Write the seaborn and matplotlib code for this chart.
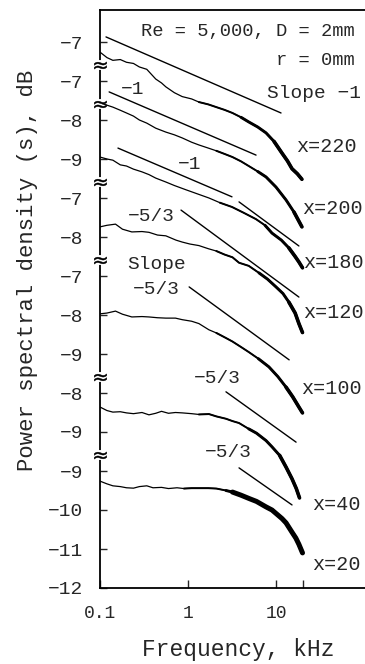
import matplotlib
matplotlib.use('Agg')
import matplotlib.pyplot as plt
import matplotlib.ticker as mticker
import matplotlib.transforms as mtransforms
import pandas as pd
import seaborn as sns

# Each spectrum is given in its own log-PSD scale; the y axis is a stack of broken scales.
curve_names = ['x=220', 'x=200', 'x=180', 'x=120', 'x=100', 'x=40', 'x=20']

freq_220 = [0.10, 0.12, 0.14, 0.17, 0.20, 0.24, 0.28, 0.34, 0.43, 0.50, 0.56, 0.70, 0.86, 1.1,
            1.33, 1.7, 2.1, 2.6, 3.2, 4.0, 4.9, 6.2, 7.7, 9.5, 11.7, 13.5, 15.2, 17.5, 19.7]
psd_220 = [-7.26, -7.40, -7.47, -7.45, -7.52, -7.55, -7.64, -7.70, -7.95, -8.05, -8.15, -8.30, -8.40,
           -8.46, -8.54, -8.60, -8.67, -8.74, -8.82, -8.93, -9.05, -9.18, -9.33, -9.55, -9.85,
           -10.05, -10.25, -10.38, -10.52]

freq_200 = [0.10, 0.12, 0.14, 0.17, 0.20, 0.24, 0.28, 0.34, 0.43, 0.56, 0.70, 0.86, 1.1, 1.33,
            1.7, 2.1, 2.6, 3.2, 4.0, 4.9, 6.2, 7.7, 10.0, 13.0, 16.0, 19.7]
psd_200 = [-7.56, -7.62, -7.67, -7.75, -7.82, -7.90, -8.00, -8.08, -8.21, -8.31, -8.38, -8.46,
           -8.57, -8.64, -8.72, -8.79, -8.87, -8.95, -9.06, -9.18, -9.32, -9.46, -9.72, -10.05,
           -10.36, -10.74]

freq_180 = [0.10, 0.12, 0.14, 0.17, 0.20, 0.24, 0.30, 0.36, 0.43, 0.56, 0.70, 0.95, 1.3, 1.73,
            2.3, 3.16, 4.3, 5.9, 7.5, 9.0, 11.5, 14.0, 16.5, 18.2, 20.0]
psd_180 = [-8.95, -9.00, -9.03, -9.15, -9.18, -9.26, -9.33, -9.40, -9.49, -9.59, -9.68, -9.79,
           -9.90, -10.00, -10.12, -10.23, -10.38, -10.54, -10.70, -10.90, -11.08, -11.28,
           -11.50, -11.64, -11.79]

freq_120 = [0.10, 0.12, 0.15, 0.18, 0.23, 0.30, 0.36, 0.45, 0.56, 0.73, 0.86, 1.05, 1.33, 1.7,
            2.1, 2.6, 3.2, 3.8, 4.9, 6.4, 8.0, 10.0, 12.0, 14.0, 16.5, 18.2, 20.0]
psd_120 = [-7.74, -7.70, -7.67, -7.80, -7.87, -7.86, -7.88, -7.95, -7.97, -8.08, -8.13, -8.18,
           -8.22, -8.30, -8.36, -8.45, -8.52, -8.66, -8.74, -8.92, -9.08, -9.28, -9.45, -9.67,
           -9.95, -10.22, -10.45]

freq_100 = [0.10, 0.12, 0.15, 0.18, 0.23, 0.30, 0.36, 0.45, 0.56, 0.72, 0.86, 1.1, 1.33, 1.73,
            2.1, 2.7, 3.2, 4.0, 4.9, 6.3, 8.3, 10.5, 13.0, 15.5, 18.2, 20.0]
psd_100 = [-7.97, -7.95, -7.90, -7.98, -8.05, -8.04, -8.05, -8.07, -8.08, -8.08, -8.12, -8.16,
           -8.22, -8.38, -8.46, -8.59, -8.68, -8.82, -8.95, -9.12, -9.33, -9.58, -9.85, -10.10,
           -10.36, -10.51]

freq_40 = [0.10, 0.12, 0.14, 0.17, 0.20, 0.24, 0.30, 0.36, 0.43, 0.50, 0.60, 0.72, 0.86, 1.1,
           1.33, 1.73, 2.1, 2.7, 3.2, 3.8, 4.9, 6.0, 7.7, 9.0, 11.0, 13.0, 15.2, 17.0, 18.5]
psd_40 = [-8.36, -8.45, -8.49, -8.48, -8.51, -8.53, -8.50, -8.56, -8.52, -8.47, -8.52, -8.50,
          -8.51, -8.53, -8.55, -8.54, -8.60, -8.66, -8.72, -8.77, -8.92, -9.03, -9.22, -9.38,
          -9.60, -9.90, -10.20, -10.45, -10.69]

freq_20 = [0.10, 0.12, 0.14, 0.17, 0.20, 0.24, 0.28, 0.34, 0.40, 0.50, 0.60, 0.75, 0.90, 1.1,
           1.33, 1.7, 2.1, 2.7, 3.2, 4.0, 5.0, 6.0, 7.7, 9.0, 11.7, 13.0, 15.2, 16.8, 18.2, 20.0]
psd_20 = [-9.26, -9.33, -9.38, -9.40, -9.43, -9.44, -9.40, -9.38, -9.43, -9.42, -9.45, -9.43,
          -9.45, -9.44, -9.44, -9.44, -9.45, -9.50, -9.54, -9.62, -9.71, -9.78, -9.92, -10.00,
          -10.22, -10.33, -10.57, -10.72, -10.88, -11.10]

curve_freqs = [freq_220, freq_200, freq_180, freq_120, freq_100, freq_40, freq_20]
curve_psds = [psd_220, psd_200, psd_180, psd_120, psd_100, psd_40, psd_20]

# tick values printed for each curve's own scale
scale_ticks = [[-7], [-7], [-9, -8], [-8, -7], [-9, -8, -7], [-9, -8], [-12, -11, -10, -9]]

# reference slopes (-1 and -5/3), endpoints in the scale of the curve they go with
slope_curve = ['x=220', 'x=200', 'x=180', 'x=180', 'x=120', 'x=100', 'x=40', 'x=20']
slope_f0 = [0.117, 0.127, 0.160, 3.80, 0.833, 1.03, 2.70, 3.80]
slope_f1 = [11.4, 5.93, 3.16, 18.2, 18.2, 14.1, 16.9, 15.2]
slope_v0 = [-6.87, -7.28, -8.72, -10.10, -7.31, -7.28, -7.97, -8.92]
slope_v1 = [-8.82, -8.90, -9.97, -11.23, -9.54, -9.15, -9.26, -9.87]

# layout: shift of each scale on the shared axis, and where the noisy band starts
scale_offset = {'x=220': 21, 'x=200': 20, 'x=180': 20, 'x=120': 17, 'x=100': 15, 'x=40': 13, 'x=20': 12}
band_from = {'x=220': 1.2, 'x=200': 2.0, 'x=180': 2.0, 'x=120': 1.8, 'x=100': 1.8, 'x=40': 1.3, 'x=20': 0.9}

rows = []
for name, fs, vs in zip(curve_names, curve_freqs, curve_psds):
    for f, v in zip(fs, vs):
        rows.append({'curve': name, 'freq': f, 'level': v + scale_offset[name]})
spec = pd.DataFrame(rows)

slope_rows = []
for i, name in enumerate(slope_curve):
    off = scale_offset[name]
    slope_rows.append({'line': i, 'freq': slope_f0[i], 'level': slope_v0[i] + off})
    slope_rows.append({'line': i, 'freq': slope_f1[i], 'level': slope_v1[i] + off})
slopes = pd.DataFrame(slope_rows)

sns.set_theme(style='ticks')
plt.rcParams['font.family'] = ['Liberation Mono', 'DejaVu Sans']
plt.rcParams['axes.unicode_minus'] = True

fig = plt.figure(figsize=(3.65, 6.64), dpi=100)
ax = fig.add_axes([100 / 365, 76 / 664, 265 / 365, 578 / 664])

sns.lineplot(data=spec, x='freq', y='level', units='curve', estimator=None, color='black',
             lw=0.9, ax=ax, legend=False)
# noisy high-frequency part drawn as a band that widens towards 20 kHz
start = spec['curve'].map(band_from)
for factor, width in [(1.0, 1.4), (3.0, 2.1), (7.0, 2.6)]:
    band = spec[spec['freq'] >= start * factor]
    sns.lineplot(data=band, x='freq', y='level', units='curve', estimator=None, color='black',
                 lw=width, ax=ax, legend=False)
deep = spec[(spec['curve'] == 'x=20') & (spec['freq'] >= 3)]
sns.lineplot(data=deep, x='freq', y='level', estimator=None, color='black', lw=3.6, ax=ax, legend=False)
sns.lineplot(data=slopes, x='freq', y='level', units='line', estimator=None, color='black',
             lw=1.0, ax=ax, legend=False)

ax.set_xscale('log')
ax.set_xlim(0.1, 102.6)
ax.set_ylim(0, 578 / 39)
ax.set_xticks([0.1, 1, 10, 20])
ax.set_xticklabels(['0.1', '1', '10', ''])
ax.xaxis.set_minor_locator(mticker.NullLocator())

ytick_pos, ytick_lab, breaks = [], [], []
for name, ticks in zip(reversed(curve_names), reversed(scale_ticks)):
    pos = [t + scale_offset[name] for t in ticks]
    if ytick_pos:
        breaks.append((ytick_pos[-1] + pos[0]) / 2 - 0.08)
    ytick_pos += pos
    ytick_lab += ['\u2212%d' % abs(t) for t in ticks]
ax.set_yticks(ytick_pos)
ax.set_yticklabels(ytick_lab)

ax.tick_params(axis='y', direction='in', length=5, width=1, labelsize=14, pad=12)
ax.tick_params(axis='x', direction='in', length=6, width=1, labelsize=13, pad=12)
ax.spines['right'].set_visible(False)
for s in ['left', 'bottom', 'top']:
    ax.spines[s].set_linewidth(1.3)
    ax.spines[s].set_color('black')

# axis break marks between the stacked scales
blend = mtransforms.blended_transform_factory(ax.transAxes, ax.transData)
for b in breaks:
    ax.plot([0, 0], [b - 0.08, b + 0.08], transform=blend, color='white', lw=3, zorder=5, clip_on=False)
    ax.plot([0], [b], transform=blend, marker=r'$\approx$', ms=9, mew=0.3, color='black', zorder=6,
            clip_on=False)

ax.set_ylabel('Power spectral density (s), dB', fontsize=16, va='center')
ax.yaxis.set_label_coords(-0.272, 0.55)
ax.set_xlabel('Frequency, kHz', fontsize=16.5, va='center')
ax.xaxis.set_label_coords(0.521, -0.107)

ax.text(0.962, 0.962, 'Re = 5,000, D = 2mm', transform=ax.transAxes, ha='right', va='center', fontsize=13.5)
ax.text(0.962, 0.913, 'r = 0mm', transform=ax.transAxes, ha='right', va='center', fontsize=13.5)

label_pos = {'x=220': (0.853, 0.763), 'x=200': (0.876, 0.656), 'x=180': (0.880, 0.564),
             'x=120': (0.880, 0.476), 'x=100': (0.872, 0.346), 'x=40': (0.891, 0.144),
             'x=20': (0.891, 0.040)}
for name in curve_names:
    x, y = label_pos[name]
    ax.text(x, y, name, transform=ax.transAxes, ha='center', va='center', fontsize=14.5, clip_on=False)

slope_texts = [('Slope \u22121', 0.808, 0.856), ('\u22121', 0.125, 0.862), ('\u22121', 0.340, 0.732),
               ('\u22125/3', 0.192, 0.642), ('Slope', 0.215, 0.559), ('\u22125/3', 0.211, 0.516),
               ('\u22125/3', 0.442, 0.363), ('\u22125/3', 0.483, 0.234)]
for txt, x, y in slope_texts:
    ax.text(x, y, txt, transform=ax.transAxes, ha='center', va='center', fontsize=14)

fig.savefig('out.png', dpi=100)
